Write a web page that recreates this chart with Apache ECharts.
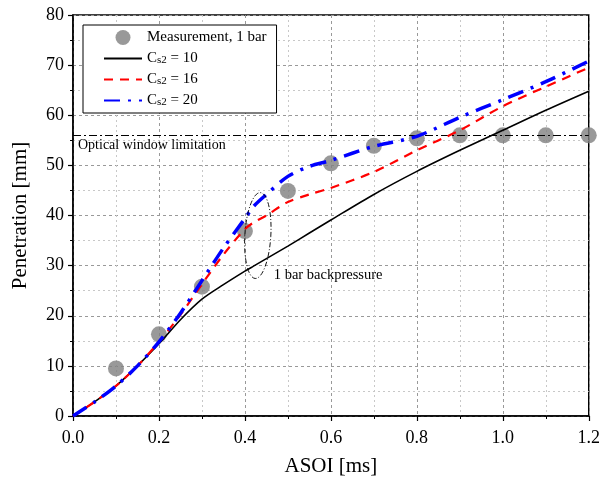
<!DOCTYPE html>
<html><head><meta charset="utf-8">
<script src="https://cdn.jsdelivr.net/npm/echarts@6/dist/echarts.min.js"></script>
<style>html,body{margin:0;padding:0;background:#fff}#c{width:603px;height:482px}</style>
</head><body><div id="c"></div>
<script>
// measurement
const measX = [0.1, 0.2, 0.3, 0.4, 0.5, 0.6, 0.7, 0.8, 0.9, 1.0, 1.1, 1.2];
const measY = [9.5, 16.3, 25.8, 36.9, 44.9, 50.4, 53.9, 55.4, 56.0, 56.0, 56.0, 56.0];
// simulations
const simX  = [0, 0.05, 0.1, 0.15, 0.2, 0.25, 0.3, 0.35, 0.4, 0.42, 0.45, 0.5, 0.55, 0.6, 0.7, 0.8, 0.9, 1.0, 1.1, 1.2];
const cs10  = [0, 2.8, 6.0, 10.0, 14.4, 19.2, 23.3, 26.2, 28.9, 29.9, 31.4, 33.9, 36.5, 39.1, 44.2, 48.8, 53.0, 57.0, 61.0, 64.8];
const cs16  = [0, 2.8, 6.0, 10.0, 14.8, 20.2, 26.3, 32.2, 37.3, 38.6, 40.0, 42.7, 44.2, 45.5, 48.7, 53.0, 57.0, 61.8, 65.7, 69.5];
const cs20  = [0, 2.8, 6.0, 10.0, 14.8, 20.5, 27.0, 33.5, 39.4, 41.8, 44.2, 47.8, 49.8, 51.0, 53.8, 55.8, 59.6, 63.1, 66.7, 70.8];
const xTicks = [0, 0.2, 0.4, 0.6, 0.8, 1.0, 1.2];
const yTicks = [0, 10, 20, 30, 40, 50, 60, 70, 80];
const opticalLimit = 56;
const ellipseCenter = [0.43, 36.0];

const zip = (xs, ys) => xs.map((x, i) => [x, ys[i]]);
const font = '"Liberation Serif", "Times New Roman", serif';

const chart = echarts.init(document.getElementById('c'));
const names = ['Measurement, 1 bar', 'Cs2 = 10', 'Cs2 = 16', 'Cs2 = 20'];
chart.setOption({
  animation: false,
  backgroundColor: '#fff',
  grid: { left: 73, right: 14, top: 15, bottom: 65, show: true, borderColor: '#000', borderWidth: 1.5, backgroundColor: 'transparent' },
  legend: {
    orient: 'vertical', left: 83, top: 25,
    data: [
      { name: names[0], icon: 'circle' },
      { name: names[1], itemStyle: { opacity: 0 } },
      { name: names[2], itemStyle: { opacity: 0 } },
      { name: names[3], itemStyle: { opacity: 0 } }
    ],
    backgroundColor: '#fff', borderColor: '#000', borderWidth: 1, borderRadius: 0,
    padding: [5, 10, 5, 20], itemGap: 6, itemWidth: 38, itemHeight: 15,
    textStyle: { fontFamily: font, fontSize: 15, color: '#000',
      rich: { c: { fontFamily: font, fontSize: 15, color: '#000' }, s: { fontFamily: font, fontSize: 11, color: '#000', padding: [4, 0, 0, 0] }, t: { fontFamily: font, fontSize: 15, color: '#000' } } },
    formatter: n => n.startsWith('Cs2') ? '{c|C}{s|s2}{t|' + n.slice(3) + '}' : n
  },
  xAxis: {
    type: 'value', min: 0, max: 1.2, interval: 0.2,
    name: 'ASOI [ms]', nameLocation: 'middle', nameGap: 40,
    nameTextStyle: { fontFamily: font, fontSize: 21, color: '#000' },
    axisLine: { show: true, lineStyle: { color: '#000', width: 1.5 } },
    axisTick: { show: true, length: 5, lineStyle: { color: '#000', width: 1.2 } },
    minorTick: { show: true, splitNumber: 2, length: 3, lineStyle: { color: '#000', width: 1 } },
    axisLabel: { fontFamily: font, fontSize: 18, color: '#000', margin: 13, formatter: v => xTicks.some(t => Math.abs(t - v) < 1e-9) ? v.toFixed(1) : '' },
    splitLine: { show: true, lineStyle: { color: '#999', type: [3, 3], width: 1 } },
    minorSplitLine: { show: true, lineStyle: { color: '#c8c8c8', type: [2, 3], width: 1 } }
  },
  yAxis: {
    type: 'value', min: 0, max: 80, interval: 10,
    name: 'Penetration [mm]', nameLocation: 'middle', nameGap: 42,
    nameTextStyle: { fontFamily: font, fontSize: 21, color: '#000' },
    axisLine: { show: true, lineStyle: { color: '#000', width: 1.5 } },
    axisTick: { show: true, length: 5, lineStyle: { color: '#000', width: 1.2 } },
    minorTick: { show: true, splitNumber: 2, length: 3, lineStyle: { color: '#000', width: 1 } },
    axisLabel: { fontFamily: font, fontSize: 18, color: '#000', margin: 9, formatter: v => yTicks.includes(v) ? String(v) : '' },
    splitLine: { show: true, lineStyle: { color: '#999', type: [3, 3], width: 1 } },
    minorSplitLine: { show: true, lineStyle: { color: '#c8c8c8', type: [2, 3], width: 1 } }
  },
  series: [
    { name: names[0], type: 'scatter', data: zip(measX, measY), symbol: 'circle', symbolSize: 16,
      itemStyle: { color: '#808080' }, z: 3 },
    { name: names[1], type: 'line', data: zip(simX, cs10), symbol: 'none', smooth: 0.3,
      lineStyle: { color: '#000', width: 1.6, type: 'solid' }, itemStyle: { color: '#000' }, z: 4,
      markLine: { silent: true, symbol: 'none', label: { show: false },
        lineStyle: { color: '#000', width: 1, type: [8, 3, 2, 3] }, data: [{ yAxis: opticalLimit }] } },
    { name: names[2], type: 'line', data: zip(simX, cs16), symbol: 'none', smooth: 0.3,
      lineStyle: { color: '#ff0000', width: 2.2, type: [9, 7] }, itemStyle: { color: '#ff0000' }, z: 5 },
    { name: names[3], type: 'line', data: zip(simX, cs20), symbol: 'none', smooth: 0.3,
      lineStyle: { color: '#0000ff', width: 3.5, type: [16, 8, 3, 8] }, itemStyle: { color: '#0000ff' }, z: 6 }
  ]
});

const pOpt = chart.convertToPixel({ gridIndex: 0 }, [0, opticalLimit]);
const pEl = chart.convertToPixel({ gridIndex: 0 }, ellipseCenter);
chart.setOption({
  graphic: [
    { type: 'text', left: pOpt[0] + 5, top: pOpt[1] + 3, z: 10,
      style: { text: 'Optical window limitation', fontFamily: font, fontSize: 14, fill: '#000' } },
    { type: 'ellipse', shape: { cx: pEl[0], cy: pEl[1], rx: 13, ry: 43 }, z: 10, rotation: -0.06, originX: pEl[0], originY: pEl[1],
      style: { fill: 'none', stroke: '#000', lineWidth: 0.9, lineDash: [5, 2, 1, 2] } },
    { type: 'text', left: pEl[0] + 16, top: pEl[1] + 32, z: 10,
      style: { text: '1 bar backpressure', fontFamily: font, fontSize: 14.5, fill: '#000' } }
  ]
});
</script></body></html>
